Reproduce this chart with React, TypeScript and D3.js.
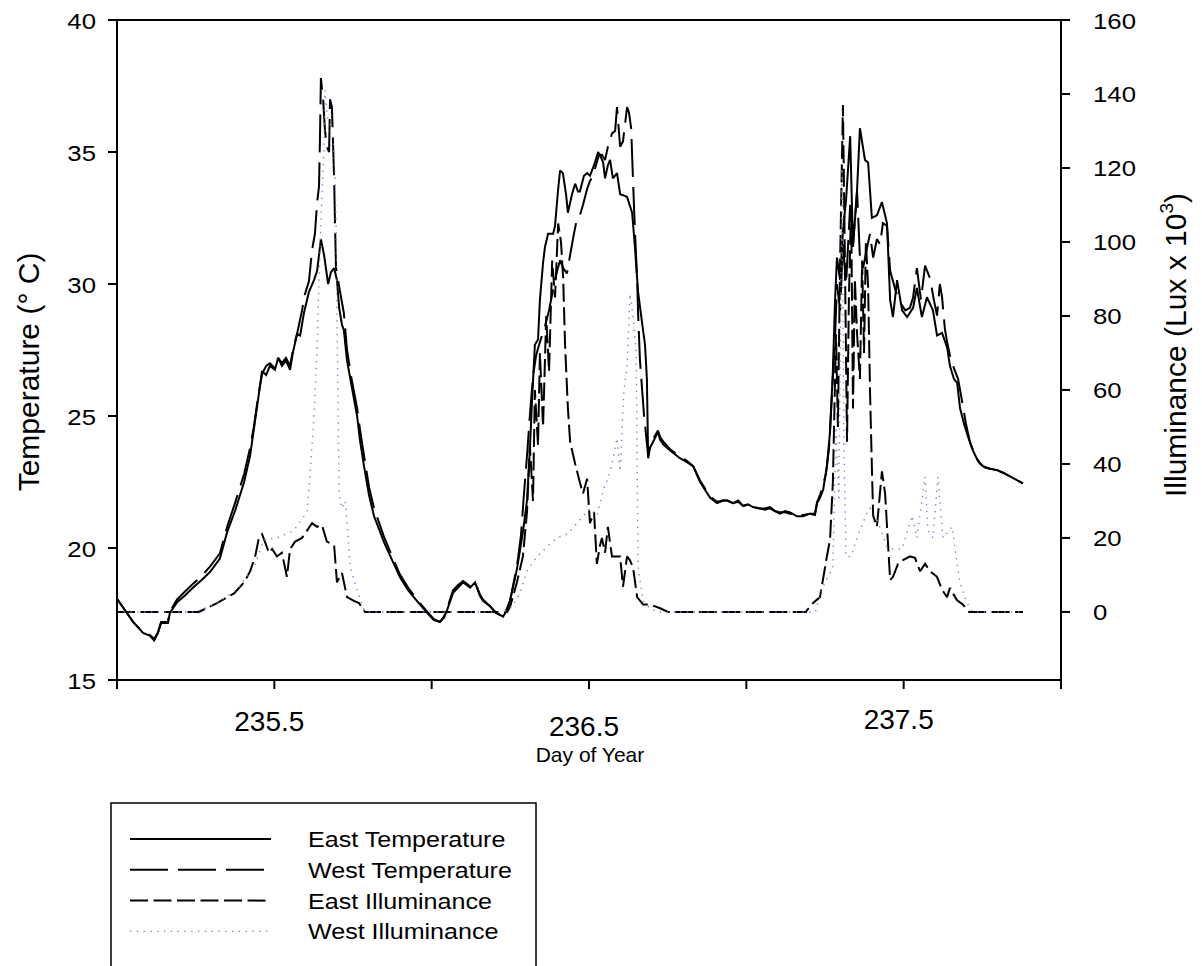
import React from "react";
import * as d3 from "d3";

type Pt = [number, number];

// day of year, temperature (°C)
const eastTemperature: Pt[] = [
  [235.0, 18.07], [235.025, 17.65], [235.051, 17.2], [235.083, 16.78], [235.105, 16.67], [235.118, 16.5],
  [235.13, 16.78], [235.14, 17.16], [235.162, 17.16], [235.168, 17.54], [235.191, 17.95], [235.216, 18.2],
  [235.242, 18.5], [235.27, 18.8], [235.296, 19.1], [235.327, 19.6], [235.35, 20.6], [235.375, 21.4],
  [235.404, 22.5], [235.423, 23.5], [235.435, 24.5], [235.448, 25.6], [235.461, 26.7], [235.474, 26.55],
  [235.486, 26.9], [235.502, 26.75], [235.512, 27.2], [235.524, 26.9], [235.537, 27.1], [235.55, 26.75],
  [235.559, 27.4], [235.572, 28.1], [235.582, 28.05], [235.594, 28.9], [235.61, 29.7], [235.626, 30.15],
  [235.636, 30.5], [235.648, 31.7], [235.658, 31.1], [235.671, 30.0], [235.68, 30.45], [235.69, 30.6],
  [235.699, 30.15], [235.706, 29.1], [235.715, 28.45], [235.721, 28.25], [235.731, 27.1], [235.744, 26.25],
  [235.763, 25.0], [235.772, 24.1], [235.785, 23.1], [235.801, 22.0], [235.817, 21.2], [235.849, 20.2],
  [235.874, 19.55], [235.899, 18.9], [235.925, 18.4], [235.953, 18.0], [235.985, 17.55], [236.007, 17.27],
  [236.026, 17.2], [236.039, 17.35], [236.049, 17.65], [236.068, 18.3], [236.084, 18.5], [236.1, 18.7],
  [236.122, 18.5], [236.138, 18.7], [236.153, 18.2], [236.163, 18.0], [236.185, 17.8], [236.204, 17.55],
  [236.227, 17.4], [236.239, 17.65], [236.249, 18.0], [236.271, 19.2], [236.29, 20.6], [236.303, 21.8],
  [236.312, 23.7], [236.319, 25.6], [236.328, 27.7], [236.338, 27.9], [236.344, 29.4], [236.354, 30.8],
  [236.36, 31.4], [236.37, 31.9], [236.386, 31.9], [236.392, 32.2], [236.402, 33.6], [236.408, 34.3],
  [236.417, 34.2], [236.427, 33.4], [236.433, 32.7], [236.446, 33.4], [236.456, 33.8], [236.465, 33.5],
  [236.471, 33.5], [236.484, 34.1], [236.494, 34.2], [236.503, 34.1], [236.516, 34.5], [236.529, 35.0],
  [236.538, 34.8], [236.545, 34.6], [236.551, 34.0], [236.56, 34.5], [236.567, 34.7], [236.576, 34.0],
  [236.589, 34.2], [236.599, 33.4], [236.612, 33.35], [236.621, 33.3], [236.637, 32.7], [236.646, 31.4],
  [236.656, 29.7], [236.669, 28.5], [236.678, 27.7], [236.684, 26.4], [236.688, 23.4], [236.694, 23.8],
  [236.707, 24.1], [236.719, 24.4], [236.726, 24.1], [236.738, 23.9], [236.757, 23.7], [236.789, 23.4],
  [236.811, 23.25], [236.831, 23.1], [236.853, 22.5], [236.869, 22.2], [236.885, 21.9], [236.907, 21.7],
  [236.926, 21.8], [236.939, 21.8], [236.958, 21.7], [236.974, 21.8], [236.989, 21.6], [237.005, 21.65],
  [237.021, 21.55], [237.043, 21.5], [237.059, 21.5], [237.075, 21.55], [237.091, 21.4], [237.107, 21.3],
  [237.123, 21.4], [237.139, 21.35], [237.161, 21.2], [237.18, 21.2], [237.202, 21.3], [237.218, 21.25],
  [237.225, 21.7], [237.234, 21.9], [237.244, 22.2], [237.256, 23.1], [237.266, 24.4], [237.275, 26.7],
  [237.282, 29.4], [237.288, 31.0], [237.298, 30.15], [237.307, 32.0], [237.317, 33.2], [237.33, 35.6],
  [237.339, 31.4], [237.352, 33.6], [237.361, 35.9], [237.377, 34.7], [237.387, 34.6], [237.399, 32.5],
  [237.415, 32.6], [237.431, 33.1], [237.447, 32.3], [237.457, 29.4], [237.466, 28.75], [237.479, 30.15],
  [237.495, 29.0], [237.511, 28.75], [237.53, 29.1], [237.542, 29.85], [237.558, 28.75], [237.574, 29.5],
  [237.593, 29.0], [237.606, 28.05], [237.622, 28.15], [237.638, 27.6], [237.647, 26.9], [237.66, 26.4],
  [237.67, 26.25], [237.679, 25.3], [237.692, 24.7], [237.705, 24.2], [237.72, 23.7], [237.736, 23.3],
  [237.752, 23.1], [237.774, 23.0], [237.797, 22.95], [237.816, 22.85], [237.832, 22.75], [237.848, 22.65],
  [237.863, 22.55], [237.879, 22.45],
];

const westTemperature: Pt[] = [
  [235.0, 18.07], [235.025, 17.65], [235.051, 17.2], [235.083, 16.8], [235.105, 16.7], [235.118, 16.55],
  [235.13, 16.8], [235.14, 17.2], [235.162, 17.2], [235.168, 17.6], [235.191, 18.05], [235.216, 18.35],
  [235.242, 18.65], [235.27, 18.95], [235.296, 19.3], [235.327, 19.8], [235.35, 20.8], [235.375, 21.7],
  [235.404, 22.8], [235.423, 23.8], [235.435, 24.6], [235.448, 25.7], [235.461, 26.6], [235.474, 26.9],
  [235.486, 27.0], [235.502, 26.8], [235.512, 27.2], [235.524, 27.0], [235.537, 27.2], [235.55, 26.9],
  [235.559, 27.5], [235.572, 28.1], [235.588, 29.0], [235.597, 29.6], [235.61, 30.1], [235.62, 31.3],
  [235.629, 31.9], [235.636, 33.1], [235.642, 33.7], [235.645, 35.5], [235.648, 37.8], [235.655, 37.0],
  [235.661, 35.8], [235.667, 35.2], [235.674, 35.0], [235.677, 37.0], [235.683, 36.7], [235.69, 34.0],
  [235.693, 32.2], [235.696, 30.6], [235.706, 29.9], [235.715, 29.3], [235.721, 28.9], [235.731, 27.5],
  [235.744, 26.5], [235.763, 25.3], [235.772, 24.5], [235.785, 23.5], [235.801, 22.3], [235.817, 21.5],
  [235.849, 20.4], [235.874, 19.7], [235.899, 19.0], [235.925, 18.5], [235.953, 18.05], [235.985, 17.6],
  [236.007, 17.3], [236.026, 17.2], [236.039, 17.4], [236.049, 17.7], [236.068, 18.4], [236.084, 18.6],
  [236.1, 18.75], [236.122, 18.55], [236.138, 18.7], [236.153, 18.25], [236.163, 18.05], [236.185, 17.8],
  [236.204, 17.55], [236.227, 17.4], [236.239, 17.7], [236.249, 18.0], [236.271, 19.3], [236.284, 20.5],
  [236.293, 22.0], [236.303, 23.5], [236.312, 25.0], [236.322, 26.5], [236.332, 27.3], [236.344, 27.8],
  [236.36, 28.4], [236.373, 29.0], [236.386, 29.8], [236.399, 30.5], [236.408, 30.9], [236.418, 30.6],
  [236.43, 30.4], [236.44, 31.1], [236.449, 31.7], [236.462, 32.5], [236.471, 32.6], [236.481, 33.0],
  [236.494, 33.6], [236.503, 33.9], [236.513, 34.1], [236.522, 34.5], [236.532, 34.9], [236.541, 34.9],
  [236.551, 34.7], [236.56, 35.2], [236.573, 35.7], [236.583, 35.8], [236.589, 36.7], [236.599, 35.2],
  [236.608, 35.4], [236.615, 36.1], [236.621, 36.7], [236.627, 36.5], [236.634, 35.9], [236.64, 33.9],
  [236.646, 32.0], [236.653, 30.2], [236.656, 28.9], [236.662, 27.1], [236.675, 25.0], [236.688, 23.5],
  [236.694, 23.9], [236.707, 24.2], [236.719, 24.45], [236.726, 24.2], [236.738, 24.0], [236.757, 23.75],
  [236.789, 23.45], [236.811, 23.3], [236.831, 23.1], [236.853, 22.55], [236.869, 22.25], [236.885, 21.95],
  [236.907, 21.75], [236.926, 21.8], [236.939, 21.8], [236.958, 21.7], [236.974, 21.75], [236.989, 21.6],
  [237.005, 21.6], [237.021, 21.55], [237.043, 21.5], [237.059, 21.45], [237.075, 21.5], [237.091, 21.4],
  [237.107, 21.35], [237.123, 21.35], [237.139, 21.3], [237.161, 21.2], [237.18, 21.25], [237.202, 21.3],
  [237.218, 21.3], [237.225, 21.75], [237.234, 22.0], [237.244, 22.4], [237.253, 22.8], [237.263, 23.8],
  [237.272, 25.8], [237.282, 28.0], [237.288, 30.0], [237.298, 29.0], [237.307, 31.5], [237.317, 30.0],
  [237.33, 33.0], [237.339, 31.5], [237.352, 33.5], [237.361, 31.0], [237.371, 30.6], [237.384, 31.4],
  [237.393, 31.9], [237.403, 31.0], [237.415, 31.7], [237.425, 31.5], [237.434, 32.3], [237.447, 32.2],
  [237.457, 30.5], [237.473, 29.8], [237.489, 29.3], [237.505, 29.0], [237.52, 29.1], [237.53, 29.5],
  [237.542, 30.6], [237.555, 29.4], [237.568, 30.7], [237.584, 30.2], [237.596, 29.4], [237.606, 28.8],
  [237.615, 30.0], [237.622, 29.5], [237.631, 28.3], [237.638, 27.8], [237.647, 27.3], [237.66, 26.8],
  [237.673, 26.4], [237.685, 25.6], [237.698, 24.7], [237.711, 24.0], [237.727, 23.5], [237.742, 23.2],
  [237.758, 23.05], [237.774, 23.0], [237.797, 22.95], [237.816, 22.85], [237.832, 22.75], [237.848, 22.65],
  [237.863, 22.55], [237.879, 22.45],
];

// day of year, illuminance (lux x 10^3)
const eastIlluminance: Pt[] = [
  [235.0, 0], [235.26, 0], [235.318, 2.4], [235.372, 5], [235.404, 8], [235.423, 11], [235.439, 15],
  [235.451, 20], [235.461, 21], [235.47, 19], [235.483, 16], [235.493, 17], [235.508, 15], [235.524, 16],
  [235.54, 9.5], [235.55, 17], [235.566, 19], [235.588, 20], [235.604, 22], [235.62, 24], [235.636, 23],
  [235.651, 23.5], [235.667, 19], [235.69, 18], [235.699, 8], [235.715, 10.5], [235.731, 4], [235.753, 3],
  [235.769, 2.4], [235.788, 0], [236.24, 0], [236.249, 1.3], [236.271, 8], [236.29, 15], [236.303, 27],
  [236.312, 45], [236.322, 30], [236.328, 60], [236.338, 45], [236.344, 70], [236.354, 50], [236.364, 80],
  [236.373, 65], [236.383, 95], [236.392, 85], [236.402, 105], [236.411, 100], [236.418, 90], [236.424, 72],
  [236.433, 55], [236.44, 46], [236.456, 40], [236.471, 35], [236.481, 32], [236.494, 36], [236.503, 24],
  [236.516, 27], [236.525, 13], [236.535, 18], [236.541, 20], [236.551, 16], [236.56, 23], [236.573, 15],
  [236.586, 15], [236.599, 15], [236.608, 6.8], [236.621, 15], [236.63, 14], [236.64, 12], [236.653, 4],
  [236.672, 2], [236.694, 2], [236.726, 1], [236.751, 0], [237.19, 0], [237.193, 0.5], [237.212, 2.4],
  [237.234, 4], [237.256, 15], [237.266, 19.5], [237.275, 35], [237.285, 75], [237.291, 50], [237.298, 95],
  [237.307, 137], [237.314, 90], [237.32, 46], [237.326, 85], [237.333, 110], [237.339, 55], [237.345, 90],
  [237.352, 75], [237.361, 63], [237.368, 95], [237.374, 70], [237.38, 100], [237.387, 88], [237.393, 60],
  [237.399, 39], [237.403, 26], [237.415, 23], [237.431, 38], [237.441, 32], [237.457, 8.6], [237.466, 9.5],
  [237.482, 13], [237.498, 14], [237.52, 15], [237.536, 14.6], [237.552, 11], [237.568, 13], [237.584, 11],
  [237.606, 9.5], [237.622, 6], [237.638, 4], [237.647, 6.5], [237.669, 3.2], [237.688, 2], [237.708, 0],
  [237.879, 0],
];

const westIlluminance: Pt[] = [
  [235.0, 0], [235.25, 0], [235.28, 1], [235.318, 2.4], [235.381, 6], [235.435, 12], [235.467, 19.5],
  [235.508, 20], [235.562, 22], [235.604, 27], [235.613, 36.5], [235.626, 53], [235.636, 71], [235.642, 90],
  [235.651, 112], [235.658, 126], [235.661, 141], [235.667, 135], [235.677, 130], [235.687, 128],
  [235.693, 117], [235.696, 106], [235.699, 81], [235.702, 60], [235.706, 32], [235.715, 28], [235.725, 30],
  [235.731, 24], [235.741, 12], [235.763, 6], [235.785, 0.5], [235.8, 0], [236.23, 0], [236.256, 1.5],
  [236.28, 5], [236.303, 11], [236.335, 15], [236.366, 17.6], [236.398, 20], [236.43, 21], [236.462, 24],
  [236.503, 28], [236.525, 26], [236.545, 33], [236.56, 36], [236.573, 40], [236.589, 47], [236.599, 38],
  [236.611, 60], [236.621, 66], [236.63, 86], [236.64, 80], [236.65, 70], [236.653, 40], [236.656, 12],
  [236.672, 3], [236.694, 1], [236.72, 0], [237.22, 0], [237.234, 5], [237.256, 9], [237.275, 12],
  [237.285, 50], [237.294, 30], [237.304, 120], [237.31, 45], [237.317, 15], [237.333, 15], [237.352, 20],
  [237.384, 27], [237.393, 28], [237.415, 25], [237.447, 17.6], [237.466, 17], [237.495, 17], [237.527, 26],
  [237.542, 20], [237.568, 36.5], [237.577, 22], [237.593, 20], [237.609, 36.5], [237.625, 20], [237.654, 23],
  [237.663, 17], [237.679, 8], [237.701, 2.4], [237.72, 0], [237.879, 0],
];

const temperatureTicks = [15, 20, 25, 30, 35, 40];
const illuminanceTicks = [0, 20, 40, 60, 80, 100, 120, 140, 160];
const dayTicks = [235, 235.5, 236, 236.5, 237, 237.5, 238];
const dayLabels = ["", "235.5", "", "236.5", "", "237.5", ""];
const seriesNames = ["East Temperature", "West Temperature", "East Illuminance", "West Illuminance"];

const FONT = "Arial, 'Liberation Sans', sans-serif";

// stroke look of each series, in legend order
const seriesStyle = [
  { stroke: "#000", width: 2, dash: undefined as string | undefined },
  { stroke: "#000", width: 2, dash: "38 10" },
  { stroke: "#000", width: 2, dash: "18 5.5" },
  { stroke: "#7c7cc0", width: 1.4, dash: "1.3 5.5" },
];

function Txt(props: {
  x: number; y: number; size: number; sx?: number; rotate?: number;
  anchor?: string; children: React.ReactNode;
}) {
  const { x, y, size, sx = 1, rotate = 0, anchor = "start" } = props;
  return (
    <g transform={`translate(${x},${y}) rotate(${rotate}) scale(${sx},1)`}>
      <text fontSize={size} textAnchor={anchor} fontFamily={FONT} fill="#000">
        {props.children}
      </text>
    </g>
  );
}

export default function App() {
  const left = 117, right = 1061, top = 20, bottom = 680;

  const x = d3.scaleLinear().domain([235, 238]).range([left, right]);
  const yT = d3.scaleLinear().domain([15, 40]).range([bottom, top]);
  const yL = d3.scaleLinear().domain([-18.4, 160]).range([bottom, top]);

  const tempLine = d3.line<Pt>().x((d) => x(d[0])).y((d) => yT(d[1]));
  const luxLine = d3.line<Pt>().x((d) => x(d[0])).y((d) => yL(d[1]));

  const paths = [
    tempLine(eastTemperature),
    tempLine(westTemperature),
    luxLine(eastIlluminance),
    luxLine(westIlluminance),
  ];

  // the day labels sit at slightly different heights in the original
  const labelDrop = [0, 0, 0, 5, 0, -2, 0];

  return (
    <svg
      width={1202}
      height={966}
      style={{ position: "absolute", left: 0, top: 0, background: "#fff", overflow: "hidden" }}
    >
      <rect x={0} y={0} width={1202} height={966} fill="#fff" />

      {/* data */}
      {paths.map((d, i) => (
        <path
          key={seriesNames[i]}
          d={d || ""}
          fill="none"
          stroke={seriesStyle[i].stroke}
          strokeWidth={seriesStyle[i].width}
          strokeDasharray={seriesStyle[i].dash}
          strokeLinejoin="miter"
          strokeMiterlimit={2}
        />
      ))}

      {/* frame */}
      <path
        d={`M${left},${top}H${right}V${bottom}H${left}Z`}
        fill="none"
        stroke="#000"
        strokeWidth={2}
      />

      {/* left axis */}
      {temperatureTicks.map((t) => (
        <g key={"t" + t}>
          <line x1={left - 9} x2={left} y1={yT(t)} y2={yT(t)} stroke="#000" strokeWidth={2} />
          <Txt x={96} y={yT(t) + 8.5} size={23} sx={1.12} anchor="end">{t}</Txt>
        </g>
      ))}

      {/* right axis */}
      {illuminanceTicks.map((t) => (
        <g key={"l" + t}>
          <line x1={right} x2={right + 9} y1={yL(t)} y2={yL(t)} stroke="#000" strokeWidth={2} />
          <Txt x={1093} y={yL(t) + 8.5} size={23} sx={1.12}>{t}</Txt>
        </g>
      ))}

      {/* bottom axis */}
      {dayTicks.map((t, i) => (
        <g key={"d" + t}>
          <line x1={x(t)} x2={x(t)} y1={bottom} y2={bottom + 9} stroke="#000" strokeWidth={2} />
          {dayLabels[i] && (
            <Txt x={x(t) - 5} y={731 + labelDrop[i]} size={28} anchor="middle">{dayLabels[i]}</Txt>
          )}
        </g>
      ))}

      {/* axis titles */}
      <Txt x={590} y={762} size={21} anchor="middle">Day of Year</Txt>
      <Txt x={39} y={372} size={30} rotate={-90} anchor="middle">Temperature (° C)</Txt>
      <g transform={`translate(1186,345) rotate(-90)`}>
        <text fontSize={30} textAnchor="middle" fontFamily={FONT} fill="#000">
          Illuminance (Lux x 10
          <tspan fontSize={19} dy={-13}>3</tspan>
          <tspan dy={13}>)</tspan>
        </text>
      </g>

      {/* legend */}
      <rect x={111} y={803} width={425} height={200} fill="#fff" stroke="#000" strokeWidth={1.5} />
      {seriesNames.map((name, i) => {
        const ly = 839 + i * 30.8;
        return (
          <g key={"lg" + name}>
            <line
              x1={130}
              x2={271}
              y1={ly}
              y2={ly}
              stroke={seriesStyle[i].stroke}
              strokeWidth={seriesStyle[i].width}
              strokeDasharray={seriesStyle[i].dash}
            />
            <Txt x={308} y={ly + 8} size={22} sx={1.14}>{name}</Txt>
          </g>
        );
      })}
    </svg>
  );
}
